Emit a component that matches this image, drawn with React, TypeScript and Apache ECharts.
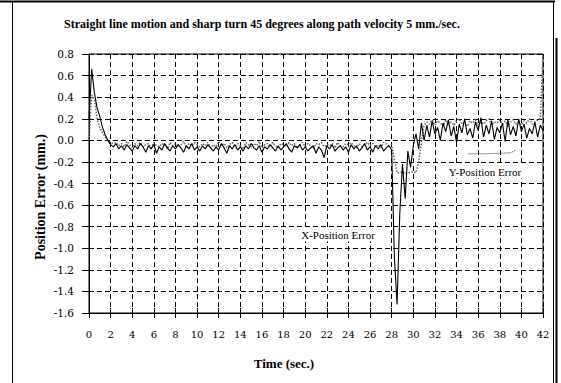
import React, { useEffect, useRef } from "react";
import * as echarts from "echarts";

const TITLE = "Straight line motion and sharp turn 45 degrees along path velocity 5 mm./sec.";
const X_AXIS_NAME = "Time (sec.)";
const Y_AXIS_NAME = "Position Error (mm.)";
const X_SERIES_NAME = "X-Position Error";
const Y_SERIES_NAME = "Y-Position Error";

const SAMPLE_STEP = 0.25; // seconds between samples, starting at t = 0
const Y_TICKS = { min: -1.6, max: 0.8, interval: 0.2 };
const X_TICKS = { min: 0, max: 42, interval: 2 };

const X_ERR = [
  0.2, 0.66, 0.44, 0.3, 0.22, 0.12, 0.05, 0.0, -0.04, -0.06,
  -0.03, -0.08, -0.05, -0.09,
  -0.04, -0.07, -0.1, -0.05,
  -0.08, -0.03, -0.06, -0.11,
  -0.05, -0.08, -0.04, -0.12,
  -0.06, -0.09, -0.03, -0.07,
  -0.1, -0.05, -0.08, -0.04,
  -0.07, -0.11, -0.05, -0.08,
  -0.03, -0.09, -0.06, -0.1,
  -0.05, -0.08, -0.04, -0.07,
  -0.1, -0.06, -0.09, -0.03,
  -0.07, -0.12, -0.05, -0.08,
  -0.04, -0.09, -0.06, -0.1,
  -0.05, -0.08, -0.03, -0.07,
  -0.09, -0.05, -0.11, -0.06,
  -0.08, -0.04, -0.07, -0.1,
  -0.05, -0.09, -0.06, -0.03,
  -0.08, -0.11, -0.05, -0.07,
  -0.04, -0.09, -0.06, -0.1,
  -0.07, -0.05, -0.12, -0.06,
  -0.09, -0.16, -0.05, -0.08,
  -0.04, -0.1, -0.07, -0.05,
  -0.09, -0.06, -0.11, -0.04,
  -0.08, -0.05, -0.1, -0.07,
  -0.03, -0.09, -0.06, -0.11,
  -0.05, -0.08, -0.04, -0.1,
  -0.07, -0.05, -0.09,
  -1.08, -1.52, -0.68, -0.22, -0.54, -0.1, -0.25, -0.05, 0.06, -0.08, 0.16, 0.0,
  0.14, 0.03, 0.18, 0.06,
  0.12, 0.0, 0.16, 0.08,
  0.19, 0.04, 0.13, -0.02,
  0.15, 0.07, 0.2, 0.05,
  0.11, 0.02, 0.17, 0.09,
  0.21, 0.03, 0.14, 0.06,
  0.18, 0.01, 0.12, 0.07,
  0.16, -0.01, 0.19, 0.05,
  0.13, 0.04, 0.2, 0.08,
  0.15, 0.02, 0.11, 0.06,
  0.17, 0.03, 0.14, 0.09,
];

const Y_ERR = [
  0.0, 0.42, 0.38, 0.2, 0.12, 0.07, 0.03, 0.0, -0.02, -0.03,
  -0.02, -0.05, -0.03, -0.06,
  -0.01, -0.04, -0.07, -0.03,
  -0.05, -0.02, -0.06, -0.04,
  -0.03, -0.07, -0.02, -0.05,
  -0.06, -0.03, -0.04, -0.08,
  -0.02, -0.05, -0.03, -0.06,
  -0.04, -0.01, -0.07, -0.03,
  -0.05, -0.02, -0.04, -0.06,
  -0.03, -0.05, -0.02, -0.07,
  -0.04, -0.06, -0.01, -0.05,
  -0.03, -0.07, -0.04, -0.02,
  -0.06, -0.03, -0.05, -0.08,
  -0.02, -0.04, -0.06, -0.03,
  -0.05, -0.01, -0.07, -0.04,
  -0.03, -0.06, -0.02, -0.05,
  -0.07, -0.03, -0.04, -0.06,
  -0.02, -0.05, -0.03, -0.07,
  -0.04, -0.02, -0.06, -0.03,
  -0.05, -0.08, -0.03, -0.04,
  -0.02, -0.06, -0.04, -0.05,
  -0.03, -0.07, -0.02, -0.05,
  -0.06, -0.03, -0.04, -0.02,
  -0.05, -0.07, -0.03, -0.06,
  -0.04, -0.02, -0.05, -0.03,
  -0.06, -0.04, -0.07, -0.02,
  -0.03, -0.05, -0.04,
  -0.18, -0.3, -0.3, -0.29, -0.31, -0.3, -0.3, -0.29, -0.3, -0.2, -0.02, 0.14,
  0.17, 0.15, 0.19, 0.14,
  0.18, 0.16, 0.13, 0.19,
  0.15, 0.17, 0.14, 0.18,
  0.2, 0.15, 0.17, 0.13,
  0.18, 0.16, 0.19, 0.14,
  0.17, 0.15, 0.18, 0.2,
  0.14, 0.17, 0.16, 0.19,
  0.15, 0.18, 0.13, 0.17,
  0.19, 0.15, 0.17, 0.14,
  0.18, 0.16, 0.2, 0.15,
  0.17, 0.19, 0.2, 0.78,
];

// dotted leader line drawn above the "Y-Position Error" label
const LEADER_T = [35.1, 36.5, 38.0, 39.0, 39.5];
const LEADER_V = [-0.125, -0.125, -0.12, -0.115, -0.09];

const SERIF = '"Liberation Serif", "Times New Roman", serif';
const WIDE_SERIF = '"DejaVu Serif", serif';

export default function App() {
  const ref = useRef<HTMLDivElement>(null);

  useEffect(() => {
    if (!ref.current) return;
    const chart = echarts.init(ref.current, null, { renderer: "svg" });

    const xData = X_ERR.map((v, i) => [i * SAMPLE_STEP, v]);
    const yData = Y_ERR.map((v, i) => [i * SAMPLE_STEP, v]);
    const leader = LEADER_T.map((t, i) => [t, LEADER_V[i]]);

    const splitLine = {
      show: true,
      lineStyle: { color: "#000", width: 1, type: [5, 3] as any },
    };

    const annotation = (text: string, x: number, y: number) => ({
      type: "text",
      x,
      y,
      z: 100,
      style: {
        text,
        align: "center",
        verticalAlign: "middle",
        fill: "#000",
        font: `11px ${SERIF}`,
        backgroundColor: "#fff",
        padding: [1, 2],
      },
    });

    const option: any = {
      animation: false,
      backgroundColor: "#fff",
      grid: {
        left: 89,
        right: 18,
        top: 54,
        bottom: 70,
        show: true,
        borderColor: "#000",
        borderWidth: 1,
        containLabel: false,
      },
      xAxis: [
        {
          type: "value",
          ...X_TICKS,
          position: "bottom",
          axisLine: { show: true, onZero: false, lineStyle: { color: "#000", width: 1 } },
          axisTick: { show: true, inside: false, length: 5, lineStyle: { color: "#000" } },
          axisLabel: {
            show: true,
            margin: 16,
            color: "#000",
            fontFamily: WIDE_SERIF,
            fontSize: 10,
            formatter: (v: number) => String(Math.round(v)),
          },
          splitLine,
        },
        {
          type: "value",
          ...X_TICKS,
          position: "bottom",
          offset: 0,
          axisLine: { show: false, onZero: false },
          axisTick: { show: true, inside: true, length: 5, lineStyle: { color: "#000" } },
          axisLabel: { show: false },
          splitLine: { show: false },
        },
      ],
      yAxis: [
        {
          type: "value",
          ...Y_TICKS,
          position: "left",
          axisLine: { show: true, onZero: false, lineStyle: { color: "#000", width: 1 } },
          axisTick: { show: true, inside: false, length: 7, lineStyle: { color: "#000" } },
          axisLabel: {
            show: true,
            margin: 15,
            color: "#000",
            fontFamily: WIDE_SERIF,
            fontSize: 10.5,
            formatter: (v: number) => v.toFixed(1),
          },
          splitLine,
        },
        {
          type: "value",
          ...Y_TICKS,
          position: "left",
          offset: 0,
          axisLine: { show: false, onZero: false },
          axisTick: { show: true, inside: true, length: 4, lineStyle: { color: "#000" } },
          axisLabel: { show: false },
          splitLine: { show: false },
        },
      ],
      series: [
        {
          name: Y_SERIES_NAME,
          type: "line",
          xAxisIndex: 0,
          yAxisIndex: 0,
          data: yData,
          showSymbol: false,
          symbol: "none",
          lineStyle: { color: "#666", width: 1.5, type: "dotted" },
          z: 3,
        },
        {
          name: X_SERIES_NAME,
          type: "line",
          xAxisIndex: 0,
          yAxisIndex: 0,
          data: xData,
          showSymbol: false,
          symbol: "none",
          lineStyle: { color: "#000", width: 1.1 },
          z: 4,
        },
        {
          name: "leader",
          type: "line",
          xAxisIndex: 0,
          yAxisIndex: 0,
          data: leader,
          showSymbol: false,
          symbol: "none",
          lineStyle: { color: "#333", width: 1, type: "dotted" },
          z: 3,
        },
      ],
      graphic: [
        {
          type: "line",
          shape: { x1: 0, y1: 1.5, x2: 555, y2: 1.5 },
          style: { stroke: "#000", lineWidth: 2 },
        },
        {
          type: "line",
          shape: { x1: 12.5, y1: 2, x2: 12.5, y2: 383 },
          style: { stroke: "#000", lineWidth: 1 },
        },
        {
          type: "line",
          shape: { x1: 553.5, y1: 2, x2: 553.5, y2: 383 },
          style: { stroke: "#000", lineWidth: 1 },
        },
        {
          type: "line",
          shape: { x1: 556.5, y1: 38, x2: 556.5, y2: 383 },
          style: { stroke: "#000", lineWidth: 2 },
        },
        {
          type: "text",
          x: 262,
          y: 24,
          style: {
            text: TITLE,
            align: "center",
            verticalAlign: "middle",
            fill: "#000",
            font: `bold 12px ${SERIF}`,
          },
        },
        {
          type: "text",
          x: 284,
          y: 363,
          style: {
            text: X_AXIS_NAME,
            align: "center",
            verticalAlign: "middle",
            fill: "#000",
            font: `bold 13px ${SERIF}`,
          },
        },
        {
          type: "text",
          x: 40,
          y: 197,
          rotation: Math.PI / 2,
          style: {
            text: Y_AXIS_NAME,
            align: "center",
            verticalAlign: "middle",
            fill: "#000",
            font: `bold 14px ${SERIF}`,
          },
        },
        annotation(X_SERIES_NAME, 338, 235),
        annotation(Y_SERIES_NAME, 485, 172),
      ],
    };

    chart.setOption(option);
    return () => chart.dispose();
  }, []);

  return (
    <div
      ref={ref}
      style={{ position: "fixed", left: 0, top: 0, width: 561, height: 383, background: "#fff" }}
    />
  );
}
